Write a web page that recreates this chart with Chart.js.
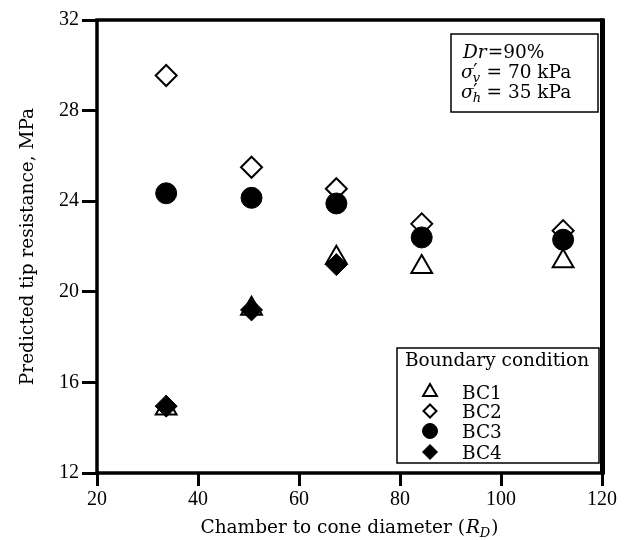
<!DOCTYPE html>
<html><head><meta charset="utf-8">
<script src="https://cdn.jsdelivr.net/npm/chart.js@4"></script>
<style>html,body{margin:0;padding:0;background:#fff}</style>
</head><body>
<div style="width:629px;height:540px"><canvas id="c" width="629" height="540"></canvas></div>
<script>
const rd = [33.7, 50.6, 67.4, 84.3, 112.3];
const bc1 = [14.85, 19.25, 21.5, 21.1, 21.35];
const bc2 = [29.55, 25.5, 24.55, 23.0, 22.7];
const bc3 = [24.35, 24.15, 23.9, 22.4, 22.3];
const bc4 = [14.95, 19.2, 21.2, null, null];
const seriesNames = ['BC1', 'BC2', 'BC3', 'BC4'];
const xTicks = [20, 40, 60, 80, 100, 120];
const yTicks = [12, 16, 20, 24, 28, 32];
const legendTitle = 'Boundary condition';
const xTitle = 'Chamber to cone diameter (';
const yTitle = 'Predicted tip resistance, MPa';

const FONT = '"DejaVu Serif", "Liberation Serif", serif';
const TFONT = '"Liberation Serif", "DejaVu Serif", serif';
const FS = 18.5;

function pts(ys) { return rd.map((x, i) => ys[i] == null ? null : { x: x, y: ys[i] }).filter(p => p); }

const styles = [
  { pointStyle: 'triangle', pointRadius: 12, backgroundColor: '#fff', borderColor: '#000', borderWidth: 2, order: 4, lr: 8 },
  { pointStyle: 'rectRot', pointRadius: 10.5, backgroundColor: '#fff', borderColor: '#000', borderWidth: 2, order: 3, lr: 6.5 },
  { pointStyle: 'circle', pointRadius: 10.5, backgroundColor: '#000', borderColor: '#000', borderWidth: 1, order: 2, lr: 7.5 },
  { pointStyle: 'rectRot', pointRadius: 11, backgroundColor: '#000', borderColor: '#000', borderWidth: 1, order: 1, lr: 7.5 }
];
const seriesData = [bc1, bc2, bc3, bc4];

const datasets = seriesNames.map((n, i) => ({
  label: n,
  data: pts(seriesData[i]),
  showLine: false,
  pointStyle: styles[i].pointStyle,
  pointRadius: styles[i].pointRadius,
  pointHoverRadius: styles[i].pointRadius,
  pointBackgroundColor: styles[i].backgroundColor,
  pointBorderColor: styles[i].borderColor,
  pointBorderWidth: styles[i].borderWidth,
  order: styles[i].order
}));

function drawMarker(ctx, st, x, y, r) {
  ctx.save();
  ctx.fillStyle = st.backgroundColor;
  ctx.strokeStyle = st.borderColor;
  ctx.lineWidth = st.borderWidth;
  ctx.beginPath();
  if (st.pointStyle === 'circle') {
    ctx.arc(x, y, r, 0, Math.PI * 2);
  } else if (st.pointStyle === 'triangle') {
    ctx.moveTo(x, y - r);
    ctx.lineTo(x + r * Math.sin(Math.PI * 2 / 3), y - r * Math.cos(Math.PI * 2 / 3));
    ctx.lineTo(x - r * Math.sin(Math.PI * 2 / 3), y - r * Math.cos(Math.PI * 2 / 3));
  } else {
    ctx.moveTo(x, y - r); ctx.lineTo(x + r, y); ctx.lineTo(x, y + r); ctx.lineTo(x - r, y);
  }
  ctx.closePath();
  ctx.fill();
  ctx.stroke();
  ctx.restore();
}

const decor = {
  id: 'decor',
  afterDraw(chart) {
    const ctx = chart.ctx;
    const a = chart.chartArea;
    ctx.save();
    // frame
    ctx.strokeStyle = '#000';
    ctx.lineWidth = 3.5;
    ctx.strokeRect(a.left, a.top, a.right - a.left, a.bottom - a.top);
    ctx.lineWidth = 5;
    ctx.beginPath(); ctx.moveTo(a.right + 0.5, a.top - 1.5); ctx.lineTo(a.right + 0.5, a.bottom + 1.5); ctx.stroke();

    // annotation box
    ctx.lineWidth = 1.5;
    ctx.fillStyle = '#fff';
    ctx.fillRect(451, 34, 147, 78);
    ctx.strokeRect(451, 34, 147, 78);
    ctx.fillStyle = '#000';
    ctx.textBaseline = 'alphabetic';
    ctx.textAlign = 'left';
    let x = 463;
    ctx.font = 'italic ' + FS + 'px ' + FONT;
    ctx.fillText('Dr', x, 58); x += ctx.measureText('Dr').width + 1;
    ctx.font = FS + 'px ' + FONT;
    ctx.fillText('=90%', x, 58);
    [['v', '70', 78], ['h', '35', 98]].forEach(([sub, val, yb]) => {
      let xx = 461;
      ctx.font = 'italic ' + FS + 'px ' + FONT;
      ctx.fillText('\u03C3', xx, yb);
      const w = ctx.measureText('\u03C3').width;
      ctx.font = '19px ' + FONT;
      ctx.fillText('\u2032', xx + w - 0.5, yb - 1);
      ctx.font = 'italic 13px ' + FONT;
      ctx.fillText(sub, xx + w - 1, yb + 4);
      xx += w + 7;
      ctx.font = FS + 'px ' + FONT;
      ctx.fillText(' = ' + val + ' kPa', xx, yb);
    });

    // legend box
    ctx.lineWidth = 1.5;
    ctx.fillStyle = '#fff';
    ctx.fillRect(397, 348, 202, 115);
    ctx.strokeRect(397, 348, 202, 115);
    ctx.fillStyle = '#000';
    ctx.font = FS + 'px ' + FONT;
    ctx.textAlign = 'center';
    ctx.fillText(legendTitle, 497, 366);
    ctx.textAlign = 'left';
    const rows = [392, 411, 431, 452];
    seriesNames.forEach((n, i) => {
      drawMarker(ctx, styles[i], 430, rows[i], styles[i].lr);
      ctx.fillStyle = '#000';
      ctx.textBaseline = 'alphabetic';
      ctx.fillText(n, 462, rows[i] + 7);
    });

    // x title with italic R and subscript D
    ctx.textBaseline = 'alphabetic';
    ctx.font = FS + 'px ' + FONT;
    const w1 = ctx.measureText(xTitle).width;
    ctx.font = 'italic ' + FS + 'px ' + FONT;
    const wR = ctx.measureText('R').width;
    ctx.font = 'italic 13px ' + FONT;
    const wD = ctx.measureText('D').width;
    ctx.font = FS + 'px ' + FONT;
    const wP = ctx.measureText(')').width;
    const total = w1 + wR + wD + wP + 2;
    let tx = (a.left + a.right) / 2 - total / 2;
    const ty = 533;
    ctx.fillText(xTitle, tx, ty); tx += w1 + 1;
    ctx.font = 'italic ' + FS + 'px ' + FONT;
    ctx.fillText('R', tx, ty); tx += wR;
    ctx.font = 'italic 13px ' + FONT;
    ctx.fillText('D', tx, ty + 4); tx += wD + 1;
    ctx.font = FS + 'px ' + FONT;
    ctx.fillText(')', tx, ty);
    ctx.restore();
  }
};

new Chart(document.getElementById('c'), {
  type: 'scatter',
  data: { datasets: datasets },
  options: {
    responsive: false,
    animation: false,
    devicePixelRatio: 1,
    layout: { padding: { top: 20, right: 27, left: 0, bottom: 0 } },
    plugins: { legend: { display: false }, tooltip: { enabled: false } },
    scales: {
      x: {
        type: 'linear', min: 20, max: 120,
        afterBuildTicks: s => { s.ticks = xTicks.map(v => ({ value: v })); },
        afterFit: s => { s.height = 67; },
        ticks: { color: '#000', font: { family: TFONT, size: 20 }, padding: 2 },
        grid: { drawOnChartArea: false, color: '#000', tickLength: 13, tickWidth: 3, lineWidth: 3 },
        border: { display: false }
      },
      y: {
        type: 'linear', min: 12, max: 32,
        afterBuildTicks: s => { s.ticks = yTicks.map(v => ({ value: v })); },
        afterFit: s => { s.width = 97; },
        ticks: { color: '#000', font: { family: TFONT, size: 20 }, padding: 3 },
        grid: { drawOnChartArea: false, color: '#000', tickLength: 15, tickWidth: 3, lineWidth: 3 },
        border: { display: false },
        title: { display: true, text: yTitle, color: '#000', font: { family: FONT, size: FS }, padding: { top: 17, bottom: 0 } }
      }
    }
  },
  plugins: [decor]
});
</script>
</body></html>
